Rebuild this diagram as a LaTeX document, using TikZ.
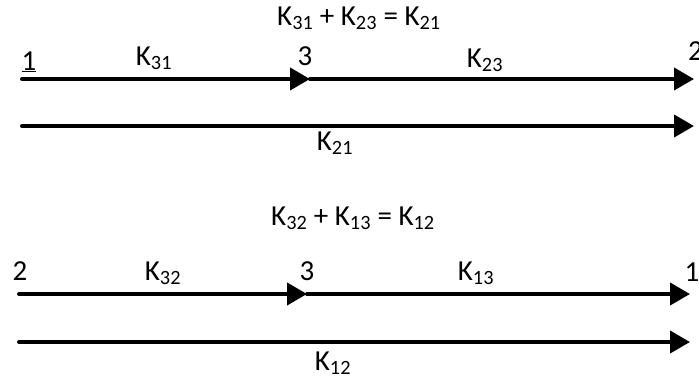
\documentclass[tikz,border=0pt]{standalone}
\usepackage{fontspec}
\setmainfont{Carlito}
\usetikzlibrary{arrows.meta}
\newcommand{\Kx}[1]{K\textsubscript{#1}}
\begin{document}
\begin{tikzpicture}[x=1pt,y=-1pt,
  lbl/.style={anchor=base, inner sep=0pt, font=\fontsize{29}{34}\selectfont},
  conn/.style={line width=4pt, line cap=round, -{Triangle[length=20pt,width=22pt]}}]
\useasboundingbox (0,0) rectangle (699,383);
% ---- top ----
\node[lbl] (t1) at (359,25) {\Kx{31} + \Kx{23} = \Kx{21}};
\node[lbl] (n1a) at (29,70) {\underline{1}};
\node[lbl] (k31) at (154,65) {\Kx{31}};
\node[lbl] (n3a) at (305,65) {3};
\node[lbl] (k23) at (485,67) {\Kx{23}};
\node[lbl,anchor=base west] (n2a) at (688,60) {2};
\node[lbl] (k21) at (335,150) {\Kx{21}};
\coordinate (a1) at (22,79);
\coordinate (a3) at (310,79);
\coordinate (a2) at (694,79);
\coordinate (b1) at (22,126);
\coordinate (b2) at (694,126);
\draw[conn] (a1) -- (a3);
\draw[conn] (a3) -- (a2);
\draw[conn] (b1) -- (b2);
% ---- bottom ----
\node[lbl] (t2) at (353,225) {\Kx{32} + \Kx{13} = \Kx{12}};
\node[lbl] (n2b) at (20,280) {2};
\node[lbl] (k32) at (163,280) {\Kx{32}};
\node[lbl] (n3b) at (307,280) {3};
\node[lbl] (k13) at (476,280) {\Kx{13}};
\node[lbl] (n1b) at (692,281) {1};
\node[lbl] (k12) at (333,370) {\Kx{12}};
\coordinate (c2) at (19,294);
\coordinate (c3) at (307,294);
\coordinate (c1) at (690,294);
\coordinate (d2) at (19,342);
\coordinate (d1) at (690,342);
\draw[conn] (c2) -- (c3);
\draw[conn] (c3) -- (c1);
\draw[conn] (d2) -- (d1);
\end{tikzpicture}
\end{document}
